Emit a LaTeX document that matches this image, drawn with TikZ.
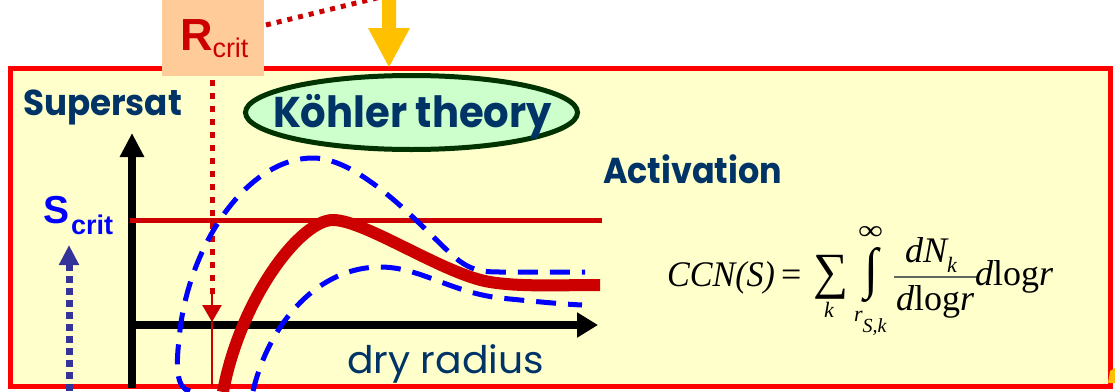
\documentclass[tikz,border=0pt]{standalone}
\usepackage{fontspec}
\usepackage{graphicx}
\usetikzlibrary{arrows.meta,shapes.geometric}
\newfontfamily\comicf{Poppins}
\newfontfamily\arialf{Liberation Sans}
\newfontfamily\serf{Liberation Serif}
\definecolor{ybg}{HTML}{FFFFCC}
\definecolor{boxred}{HTML}{FF0000}
\definecolor{dred}{HTML}{CC0000}
\definecolor{peach}{HTML}{FFCC99}
\definecolor{navy}{HTML}{003366}
\definecolor{kfill}{HTML}{CCFFCC}
\definecolor{kgreen}{HTML}{003300}
\definecolor{pblue}{HTML}{0000FF}
\definecolor{dotblue}{HTML}{333399}
\definecolor{gold}{HTML}{FFC000}
\definecolor{fbar}{HTML}{606860}
\begin{document}
\begin{tikzpicture}[x=1pt,y=-1pt,
  txt/.style={inner sep=0pt,outer sep=0pt},
  comictxt/.style={txt,text=navy,anchor=base west},
  frm/.style={txt,anchor=base west,text=black},
  bluedash/.style={draw=pblue,line width=5pt,dash pattern=on 20pt off 12pt},
  reddot/.style={draw=dred,line width=5pt,dash pattern=on 6pt off 7pt},
  axisline/.style={draw=black,line width=8pt}]
\useasboundingbox (0,0) rectangle (1115,391);
\clip (0,0) rectangle (1115,391);
% main frame
\draw[draw=boxred,line width=5pt,fill=ybg] (10,68) rectangle (1110,386);
% Rcrit box
\node[fill=peach,minimum width=102pt,minimum height=76pt,inner sep=0pt,outer sep=0pt,anchor=north west] (rbox) at (162,0) {};
\node[txt,anchor=base west,text=dred] (rcrit) at (180,50) {\arialf\fontsize{45}{48}\selectfont\bfseries R\raisebox{-7pt}{\mdseries\fontsize{27}{30}\selectfont crit}};
% dotted red diagonal from Rcrit box
\coordinate (rd1) at (266,25);
\coordinate (rd2) at (430,-15);
\draw[reddot,dash pattern=on 5pt off 6pt] (rd1) -- (rd2);
% yellow arrow
\fill[gold] (382,-2) -- (396,-2) -- (396,28) -- (410,28) -- (389,67) -- (368,28) -- (382,28) -- cycle;
% small orange piece bottom right
\fill[gold] (1108,383) -- (1110,371) -- (1115,368) -- (1115,383) -- cycle;
% texts
\node[comictxt] (supersat) at (23,115) {\resizebox{159pt}{\height}{\comicf\bfseries\fontsize{36}{40}\selectfont Supersat}};
\node[ellipse,draw=kgreen,line width=5pt,fill=kfill,minimum width=332pt,minimum height=74pt,inner sep=0pt] (kell) at (411.5,112.5) {};
\node[comictxt] (kohler) at (273,127) {\resizebox{279pt}{\height}{\comicf\bfseries\fontsize{43}{46}\selectfont Köhler theory}};
\node[comictxt] (activ) at (603,183) {\resizebox{179pt}{\height}{\comicf\bfseries\fontsize{36}{40}\selectfont Activation}};
\node[comictxt] (dryr) at (347,373) {\resizebox{197pt}{\height}{\comicf\fontsize{38}{42}\selectfont dry radius}};
\node[txt,anchor=base west,text=pblue] (scrit) at (43,223) {\arialf\bfseries\fontsize{39}{42}\selectfont S\hspace{2pt}\raisebox{-11pt}{\fontsize{27}{30}\selectfont crit}};
% axes
\coordinate (yb) at (132,388);
\coordinate (yt) at (132,133);
\coordinate (xl) at (128,325);
\coordinate (xr) at (598,325);
\draw[axisline,-{Triangle[length=24pt,width=23pt]}] (yb) -- (yt);
\draw[axisline,-{Triangle[length=21pt,width=24pt]}] (xl) -- (xr);
% critical supersaturation line
\coordinate (sl) at (130,220);
\coordinate (sr) at (602,220);
\draw[dred,line width=5pt] (sl) -- (sr);
% red dotted arrow down from Rcrit
\coordinate (rv1) at (212,80);
\coordinate (rv2) at (212,300);
\coordinate (rv3) at (212,290);
\coordinate (rv4) at (212,322);
\coordinate (rv5) at (212,386);
\draw[reddot] (rv1) -- (rv2);
\draw[dred,line width=2.5pt,-{Triangle[length=17pt,width=19pt]}] (rv3) -- (rv4);
\draw[dred,line width=2.5pt] (rv4) -- (rv5);
% blue dotted arrow up to Scrit
\coordinate (bb) at (69,391);
\coordinate (bt) at (69,245);
\draw[dotblue,line width=7pt,dash pattern=on 7pt off 5pt,-{Triangle[length=20pt,width=19pt]}] (bb) -- (bt);
% Koehler curves
\draw[dred,line width=12pt] (223,392) .. controls (240,300) and (300,220) .. (333,220)
  .. controls (365,220) and (445,275) .. (490,282)
  .. controls (520,287) and (560,285) .. (600,285);
\draw[bluedash] (190,391) .. controls (176,389) and (176,365) .. (179,340)
  .. controls (186,250) and (245,158) .. (313,158)
  .. controls (360,158) and (420,225) .. (450,253)
  .. controls (468,270) and (480,272) .. (500,272) -- (585,272);
\draw[bluedash] (253,391) .. controls (270,320) and (320,267) .. (380,267)
  .. controls (420,267) and (450,292) .. (500,298)
  .. controls (530,301) and (560,304) .. (582,305);
% formula
\node[frm] (ccn) at (667,286) {\resizebox{108pt}{\height}{\serf\itshape\fontsize{36}{40}\selectfont CCN(S)}};
\node[frm] (eq) at (781,286) {\serf\fontsize{36}{40}\selectfont =};
\node[txt,anchor=north west] (sum) at (813,255) {\resizebox*{35pt}{44pt}{\serf\fontsize{36}{40}\selectfont ∑}};
\node[txt,anchor=base] (sumk) at (829,317) {\serf\itshape\fontsize{22}{24}\selectfont k};
\node[txt,anchor=north west] (intg) at (864,248) {\resizebox*{14pt}{55pt}{\serf\fontsize{36}{40}\selectfont ∫}};
\node[txt,anchor=north west] (infty) at (858,226) {\resizebox*{25pt}{13pt}{\serf\fontsize{36}{40}\selectfont ∞}};
\node[frm] (rsk) at (854,321) {\serf\itshape\fontsize{22}{24}\selectfont r\raisebox{-11pt}{\fontsize{20}{22}\selectfont S,k}};
\coordinate (fb1) at (894,277);
\coordinate (fb2) at (977,277);
\draw[fbar,line width=1.5pt] (fb1) -- (fb2);
\node[frm] (num) at (905,262) {\serf\fontsize{36}{40}\selectfont\itshape dN\raisebox{-10pt}{\fontsize{22}{24}\selectfont k}};
\node[frm] (den) at (896,310) {\serf\fontsize{36}{40}\selectfont\textit{d}log\textit{r}};
\node[frm] (tail) at (975,285) {\serf\fontsize{36}{40}\selectfont\textit{d}log\textit{r}};
\end{tikzpicture}
\end{document}
